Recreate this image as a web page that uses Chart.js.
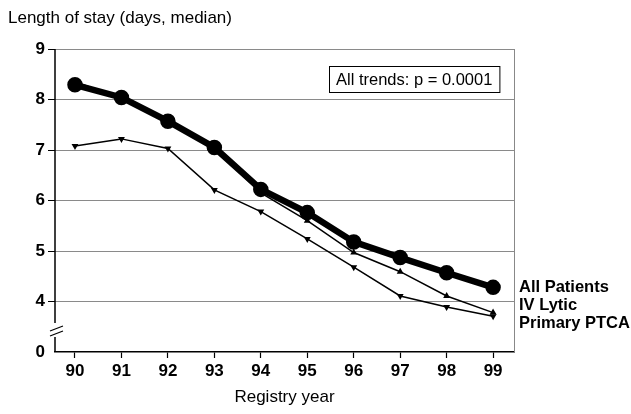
<!DOCTYPE html>
<html>
<head>
<meta charset="utf-8">
<script src="https://cdn.jsdelivr.net/npm/chart.js@4/dist/chart.umd.min.js"></script>
<style>
html,body{margin:0;padding:0;background:#fff;}
#wrap{position:relative;width:631px;height:414px;}
</style>
</head>
<body>
<div id="wrap"><canvas id="c" width="631" height="414"></canvas></div>
<script>
const years = [90, 91, 92, 93, 94, 95, 96, 97, 98, 99];
const allPatients = [8.29, 8.04, 7.57, 7.05, 6.22, 5.76, 5.18, 4.87, 4.57, 4.28];
const ivLytic = [8.35, 8.02, 7.56, 7.03, 6.15, 5.6, 4.97, 4.59, 4.11, 3.78];
const primaryPTCA = [7.08, 7.22, 7.03, 6.21, 5.78, 5.24, 4.68, 4.11, 3.89, 3.71];
const yTicks = [3, 4, 5, 6, 7, 8, 9];
const yTickLabels = ['0', '4', '5', '6', '7', '8', '9'];
const seriesNames = ['All Patients', 'IV Lytic', 'Primary PTCA'];
const yTitle = 'Length of stay (days, median)';
const xTitle = 'Registry year';
const note = 'All trends: p = 0.0001';

const FONT = '"Liberation Sans", Arial, Helvetica, sans-serif';
const toXY = arr => arr.map((v, i) => ({x: years[i], y: v}));

const decor = {
  id: 'decor',
  afterDraw(chart) {
    const ctx = chart.ctx;
    const a = chart.chartArea;
    ctx.save();
    // right border
    ctx.strokeStyle = '#888';
    ctx.lineWidth = 1;
    ctx.beginPath();
    ctx.moveTo(a.right + 0.5, a.top);
    ctx.lineTo(a.right + 0.5, a.bottom);
    ctx.stroke();
    // left axis with break
    ctx.strokeStyle = '#000';
    ctx.lineWidth = 1.5;
    ctx.beginPath();
    ctx.moveTo(a.left, a.top);
    ctx.lineTo(a.left, a.bottom - 29);
    ctx.moveTo(a.left, a.bottom - 15);
    ctx.lineTo(a.left, a.bottom);
    ctx.stroke();
    ctx.lineWidth = 1.2;
    ctx.beginPath();
    ctx.moveTo(a.left - 5, a.bottom - 21);
    ctx.lineTo(a.left + 8, a.bottom - 26);
    ctx.moveTo(a.left - 5, a.bottom - 16);
    ctx.lineTo(a.left + 8, a.bottom - 21);
    ctx.stroke();
    // y title
    ctx.fillStyle = '#000';
    ctx.font = '17px ' + FONT;
    ctx.textAlign = 'left';
    ctx.textBaseline = 'middle';
    ctx.fillText(yTitle, 8, 18);
    // note box
    ctx.font = '16.5px ' + FONT;
    const tw = ctx.measureText(note).width;
    const bx = 329, by = 66, bw = tw + 14, bh = 26;
    ctx.fillStyle = '#fff';
    ctx.fillRect(bx, by, bw, bh);
    ctx.strokeStyle = '#000';
    ctx.lineWidth = 1;
    ctx.strokeRect(bx + 0.5, by + 0.5, bw, bh);
    ctx.fillStyle = '#000';
    ctx.fillText(note, bx + 7, by + bh / 2 + 1);
    // series labels
    ctx.font = 'bold 16.5px ' + FONT;
    const lx = a.right + 5;
    const ly = [287, 305, 323];
    seriesNames.forEach((n, i) => ctx.fillText(n, lx, ly[i]));
    ctx.restore();
  }
};

new Chart(document.getElementById('c'), {
  type: 'line',
  data: {
    datasets: [
      {label: seriesNames[0], data: toXY(allPatients), borderColor: '#000', backgroundColor: '#000',
       borderWidth: 6.5, pointRadius: 4.5, pointStyle: 'circle', tension: 0},
      {label: seriesNames[1], data: toXY(ivLytic), borderColor: '#000', backgroundColor: '#000',
       borderWidth: 1.5, pointRadius: 2.5, pointStyle: 'triangle', tension: 0},
      {label: seriesNames[2], data: toXY(primaryPTCA), borderColor: '#000', backgroundColor: '#000',
       borderWidth: 1.5, pointRadius: 2.5, pointStyle: 'triangle', rotation: 180, tension: 0}
    ]
  },
  options: {
    responsive: false,
    animation: false,
    devicePixelRatio: 1,
    layout: {padding: {left: 0, top: 49, right: 631 - 514, bottom: 6}},
    plugins: {legend: {display: false}, tooltip: {enabled: false}, title: {display: false}},
    scales: {
      x: {
        type: 'linear',
        min: 89.57,
        max: 99.45,
        afterBuildTicks: s => { s.ticks = years.map(v => ({value: v})); },
        afterFit: s => { s.height = 414 - 6 - 352; },
        ticks: {
          color: '#000', padding: 3, font: {family: FONT, size: 17, weight: 'bold'},
          callback: v => String(v)
        },
        grid: {drawOnChartArea: false, drawTicks: true, tickLength: 6, tickColor: '#000', tickWidth: 1.2},
        border: {display: true, color: '#000', width: 1.5},
        title: {display: true, text: xTitle, color: '#000', font: {family: FONT, size: 17}, padding: {top: 2, bottom: 0}}
      },
      y: {
        min: 3,
        max: 9,
        afterBuildTicks: s => { s.ticks = yTicks.map(v => ({value: v})); },
        afterFit: s => { s.width = 55; },
        ticks: {
          color: '#000', padding: 3, font: {family: FONT, size: 17, weight: 'bold'},
          callback: (v) => yTickLabels[yTicks.indexOf(v)]
        },
        grid: {
          color: ctx => (ctx.tick && ctx.tick.value === 3) ? 'rgba(0,0,0,0)' : '#8a8a8a',
          lineWidth: 1,
          drawTicks: true,
          tickLength: 7,
          tickColor: ctx => (ctx.tick && ctx.tick.value === 3) ? 'rgba(0,0,0,0)' : '#000'
        },
        border: {display: false}
      }
    }
  },
  plugins: [decor]
});
</script>
</body>
</html>
